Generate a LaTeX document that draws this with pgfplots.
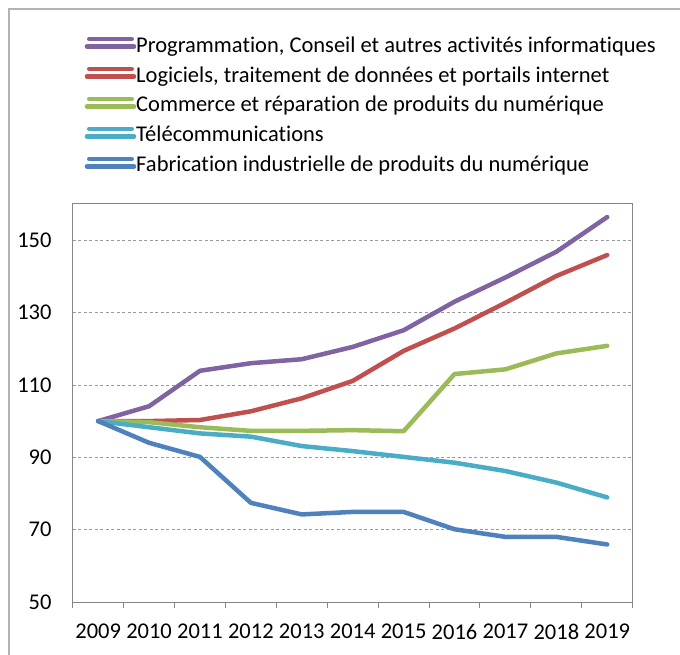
\documentclass[border=0pt]{standalone}
\usepackage{fontspec}
\setmainfont{Carlito}[Ligatures=NoCommon]
\usepackage{pgfplots}
\pgfplotsset{compat=1.18}

\definecolor{cProg}{HTML}{8064A2}
\definecolor{cLog}{HTML}{C0504D}
\definecolor{cCom}{HTML}{9BBB59}
\definecolor{cTel}{HTML}{4BACC6}
\definecolor{cFab}{HTML}{4F81BD}
\definecolor{cAxis}{HTML}{868686}
\definecolor{cGrid}{HTML}{9A9A9A}
\definecolor{cFrame}{HTML}{B3B3B3}

\begin{document}
\begin{tikzpicture}[x=1pt,y=1pt]
\useasboundingbox (0,0) rectangle (680,654);
% outer frame (only left and top edges are visible)
\draw[cFrame, line width=1.5pt] (9,-5) -- (9,645) -- (690,645);

\begin{axis}[
  at={(72.7pt,52pt)}, anchor=south west,
  scale only axis, width=560pt, height=398pt,
  xmin=-0.5, xmax=10.5, ymin=50, ymax=160,
  xtick={0,1,2,3,4,5,6,7,8,9,10},
  xticklabels={2009,2010,2011,2012,2013,2014,2015,2016,2017,2018,2019},
  minor xtick={-0.5,0.5,1.5,2.5,3.5,4.5,5.5,6.5,7.5,8.5,9.5,10.5},
  ytick={50,70,90,110,130,150},
  major tick length=0pt,
  minor tick length=6pt,
  tick align=outside,
  tick pos=left,
  tick style={cAxis, line width=1pt},
  axis line style={cAxis, line width=1pt},
  ymajorgrids,
  grid style={cGrid, dash pattern=on 3pt off 2.5pt, line width=0.8pt},
  /pgf/number format/assume math mode=true,
  tick label style={font=\fontsize{22.5}{27}\selectfont, text=black, inner sep=0pt},
  xticklabel style={anchor=center, yshift=-29.7pt},
  yticklabel style={anchor=east, xshift=-21pt},
  legend cell align=left,
  legend style={
    at={(0.0215,1.4221)}, anchor=north west,
    draw=none, fill=none, inner sep=0pt, outer sep=0pt,
    row sep=9pt, column sep=0pt,
    font=\fontsize{22.5}{27}\selectfont,
    nodes={inner sep=0pt, text height=16pt, text depth=5pt},
  },
  legend image code/.code={
    \path (0pt,0pt) -- (47pt,0pt);
    \draw[#1, line width=4.5pt, line cap=round] (2.25pt,7.5pt) -- (44.75pt,7.5pt);
  },
  every axis plot/.append style={line width=4.5pt, line join=round, line cap=round, mark=none},
]

\addplot[cProg] table {
x y
0 100
1 104.1
2 113.9
3 116.0
4 117.1
5 120.5
6 125.1
7 133.0
8 139.7
9 146.8
10 156.4
};
\addlegendentry{Programmation, Conseil et autres activités informatiques}

\addplot[cLog] table {
x y
0 100
1 100
2 100.3
3 102.7
4 106.3
5 111.1
6 119.4
7 125.6
8 132.7
9 140.1
10 145.9
};
\addlegendentry{Logiciels, traitement de données et portails internet}

\addplot[cCom] table {
x y
0 100
1 99.7
2 98.3
3 97.3
4 97.3
5 97.5
6 97.2
7 113.0
8 114.3
9 118.7
10 120.8
};
\addlegendentry{Commerce et réparation de produits du numérique}

\addplot[cTel] table {
x y
0 100
1 98.3
2 96.6
3 95.7
4 93.1
5 91.7
6 90.1
7 88.5
8 86.2
9 83.0
10 78.9
};
\addlegendentry{Télécommunications}

\addplot[cFab] table {
x y
0 100
1 94.0
2 90.1
3 77.4
4 74.2
5 74.9
6 74.9
7 70.1
8 68.0
9 68.0
10 65.9
};
\addlegendentry{Fabrication industrielle de produits du numérique}

\end{axis}
\end{tikzpicture}
\end{document}
